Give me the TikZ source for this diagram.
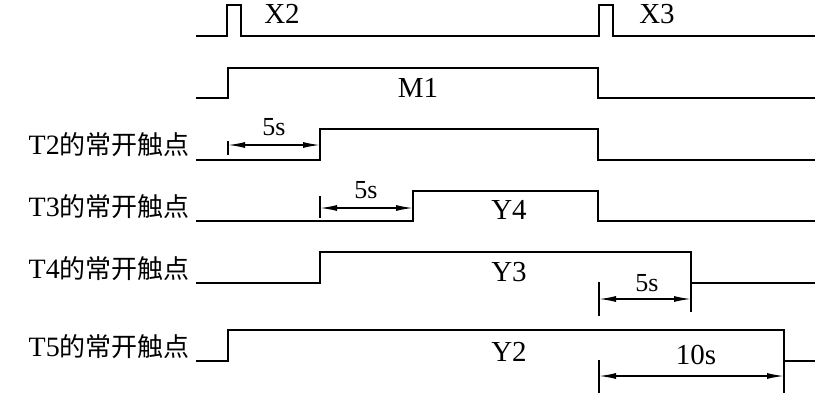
\documentclass[tikz,border=0pt]{standalone}
\usepackage{fontspec}
\setmainfont{Liberation Serif}
\newfontfamily\cjk{Noto Sans CJK SC}
\usetikzlibrary{arrows.meta}
\tikzset{
  wave/.style={line width=2.8pt, line join=miter, black},
  dimline/.style={{Latex[length=17pt,width=6pt]}-{Latex[length=17pt,width=6pt]}, line width=1.4pt},
  tickline/.style={line width=1.4pt},
  sig/.style={font=\fontsize{29}{32}\selectfont, inner sep=0pt},
  dimtext/.style={font=\fontsize{26}{28}\selectfont, inner sep=0pt},
  rowlabel/.style={anchor=base east, inner sep=0pt, font=\fontsize{28}{30}\selectfont},
}
\newcommand{\contact}[1]{T#1{\cjk\fontsize{26}{28}\selectfont 的常开触点}}

\begin{document}
\begin{tikzpicture}[x=1pt, y=-1pt]
\useasboundingbox (0,0) rectangle (833,407);

% input pulses X2 / X3
\draw[wave] (196,36) -- (227,36) -- (227,5) -- (241,5) -- (241,36)
  -- (599,36) -- (599,5) -- (613,5) -- (613,36) -- (815,36);
\node[sig] (x2) at (282,14) {X2};
\node[sig] (x3) at (657,14) {X3};

% M1
\draw[wave] (196,98) -- (228,98) -- (228,68) -- (598,68) -- (598,98) -- (815,98);
\node[sig] (m1) at (418,88) {M1};

% T2
\node[rowlabel] (t2) at (190,154) {\contact{2}};
\draw[wave] (196,160) -- (320,160) -- (320,129) -- (598,129) -- (598,160) -- (815,160);
\draw[tickline] (228,141) -- (228,155);
\coordinate (t2a) at (228,145);
\coordinate (t2b) at (320,145);
\draw[dimline] (t2a) -- (t2b);
\node[dimtext] (d2) at (274,127) {5s};

% T3
\node[rowlabel] (t3) at (190,216) {\contact{3}};
\draw[wave] (196,221) -- (413,221) -- (413,191) -- (598,191) -- (598,221) -- (815,221);
\draw[tickline] (320,196) -- (320,218);
\coordinate (t3a) at (320,208);
\coordinate (t3b) at (413,208);
\draw[dimline] (t3a) -- (t3b);
\node[dimtext] (d3) at (366,190) {5s};
\node[sig] (y4) at (509,210) {Y4};

% T4
\node[rowlabel] (t4) at (190,278) {\contact{4}};
\draw[wave] (196,283) -- (320,283) -- (320,252) -- (691,252) -- (691,283) -- (815,283);
\draw[tickline] (691,283) -- (691,312);
\draw[tickline] (599,282) -- (599,316);
\coordinate (t4a) at (599,299);
\coordinate (t4b) at (691,299);
\draw[dimline] (t4a) -- (t4b);
\node[dimtext] (d4) at (647,283) {5s};
\node[sig] (y3) at (509,272) {Y3};

% T5
\node[rowlabel] (t5) at (190,356) {\contact{5}};
\draw[wave] (196,361) -- (228,361) -- (228,330) -- (784,330) -- (784,361) -- (815,361);
\draw[tickline] (784,361) -- (784,393);
\draw[tickline] (599,360) -- (599,393);
\coordinate (t5a) at (599,376);
\coordinate (t5b) at (784,376);
\draw[dimline] (t5a) -- (t5b);
\node[sig] (d5) at (696,355) {10s};
\node[sig] (y2) at (509,352) {Y2};
\end{tikzpicture}
\end{document}
